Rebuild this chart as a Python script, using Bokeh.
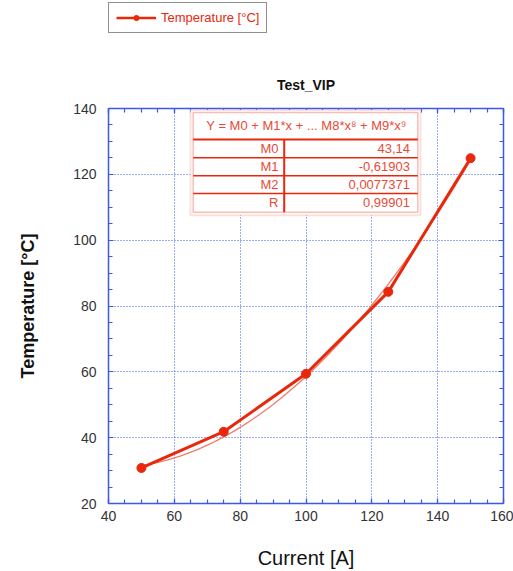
import numpy as np
from bokeh.plotting import figure
from bokeh.layouts import column
from bokeh.models import (LinearAxis, Legend, LegendItem, Label, BoxAnnotation,
                          Range1d, SingleIntervalTicker, CustomJSTickFormatter)
from bokeh.embed import file_html
from bokeh.resources import INLINE

# ---- data ----
current = [50, 75, 100, 125, 150]
temperature = [30.8, 41.8, 59.4, 84.3, 124.9]
fit_names = ["M0", "M1", "M2", "R"]
fit_values = ["43,14", "-0,61903", "0,0077371", "0,99901"]
M0, M1, M2 = 43.14, -0.61903, 0.0077371
fit_equation = "Y = M0 + M1*x + ... M8*x\u2078 + M9*x\u2079"
title_text = "Test_VIP"
series_name = "Temperature [°C]"
x_label = "Current [A]"

fit_x = np.linspace(current[0], current[-1], 101)
fit_y = M0 + M1 * fit_x + M2 * fit_x ** 2

RED = "#e8280c"
FIT_RED = "#f07a68"
BLUE = "#3a58ec"
FONT = "Liberation Sans"

TOP_H = 100  # height of the header strip (legend + title)

# ---------------- header strip: legend and title ----------------
head = figure(width=513, height=TOP_H, x_range=Range1d(0, 1), y_range=Range1d(0, 1),
              output_backend="svg", toolbar_location=None,
              min_border_left=0, min_border_right=0, min_border_top=0, min_border_bottom=0)
head.axis.visible = False
head.grid.visible = False
head.outline_line_color = None
head.border_fill_color = "white"
head.background_fill_color = "white"
# same series drawn here only so the legend can show its glyph (falls outside this strip's range)
h_line = head.line(current, temperature, color=RED, line_width=2.5)
h_pts = head.scatter(current, temperature, size=7, color=RED)

legend = Legend(items=[LegendItem(label=series_name, renderers=[h_line, h_pts])],
                location=(0, TOP_H - 33), border_line_color="#222222", border_line_width=1.5,
                background_fill_color="white", background_fill_alpha=1,
                label_text_color=RED, label_text_font=FONT, label_text_font_size="13px",
                glyph_width=40, glyph_height=13, label_height=13, label_standoff=5,
                padding=7, margin=0, spacing=0)
head.add_layout(legend)
head.add_layout(Label(x=197.5, y=TOP_H - 84, x_units="screen", y_units="screen",
                      text=title_text, text_align="center", text_baseline="middle",
                      text_font=FONT, text_font_size="14px", text_font_style="bold",
                      text_color="#111111"))

# ---------------- main chart ----------------
main = figure(width=513, height=571 - TOP_H, x_range=Range1d(40, 160), y_range=Range1d(20, 140),
              output_backend="svg", toolbar_location=None,
              min_border_left=108, min_border_right=10, min_border_top=108 - TOP_H,
              min_border_bottom=67, x_axis_label=x_label, y_axis_label=series_name)
main.outline_line_color = None
main.background_fill_color = "white"
main.border_fill_color = "white"

main.add_layout(LinearAxis(), "above")
main.add_layout(LinearAxis(), "right")

for ax in main.axis:
    ax.ticker = SingleIntervalTicker(interval=20, num_minor_ticks=4)
    ax.axis_line_color = BLUE
    ax.axis_line_width = 1.5
    ax.major_tick_line_color = BLUE
    ax.major_tick_line_width = 1.2
    ax.major_tick_in = 5
    ax.major_tick_out = 0
    ax.minor_tick_line_color = BLUE
    ax.minor_tick_line_width = 1.2
    ax.minor_tick_in = 4
    ax.minor_tick_out = 0
    ax.major_label_text_font = FONT
    ax.major_label_text_font_size = "14px"
    ax.major_label_text_color = "#333333"

# top and right frame axes carry ticks only, no labels
for ax in (main.above[0], main.right[0]):
    ax.formatter = CustomJSTickFormatter(code="return ''")
    ax.major_label_standoff = 0

xa = main.below[0]
xa.major_label_standoff = 7
xa.axis_label_standoff = 23
xa.axis_label_text_font = FONT
xa.axis_label_text_font_size = "20px"
xa.axis_label_text_font_style = "normal"
xa.axis_label_text_color = "#111111"

ya = main.left[0]
ya.major_label_standoff = 12
ya.axis_label_standoff = 32
ya.axis_label_text_font = FONT
ya.axis_label_text_font_size = "18px"
ya.axis_label_text_font_style = "bold"
ya.axis_label_text_color = "#111111"

for g in (main.xgrid[0], main.ygrid[0]):
    g.grid_line_color = BLUE
    g.grid_line_dash = "1 2"
    g.grid_line_width = 1
    g.ticker = SingleIntervalTicker(interval=20)

main.line(fit_x, fit_y, color=FIT_RED, line_width=1.3)
main.line(current, temperature, color=RED, line_width=3)
main.scatter(current, temperature, size=9, color=RED)


# ---- page pixel -> data helpers for the fit-result table ----
def dx(px):
    return 40 + (px - 108) * 120 / 395


def dy(py):
    return 140 - (py - 108) * 120 / 396


main.add_layout(BoxAnnotation(left=dx(190), right=dx(420), top=dy(109.5), bottom=dy(215),
                              fill_color="white", fill_alpha=1, line_color="#f29a8a",
                              line_width=2, level="annotation"))
main.add_layout(BoxAnnotation(left=dx(192.7), right=dx(417.3), top=dy(112), bottom=dy(212),
                              fill_color="white", fill_alpha=1, line_color=RED,
                              line_width=1.5, level="annotation"))

row_ys = [157.3, 175.3, 193.3]
main.segment(x0=[dx(192.7)] * 4, x1=[dx(417.3)] * 4,
             y0=[dy(139)] + [dy(v) for v in row_ys], y1=[dy(139)] + [dy(v) for v in row_ys],
             line_color=RED, line_width=[2, 1.5, 1.5, 1.5], level="overlay")
main.segment(x0=[dx(283.7)], x1=[dx(283.7)], y0=[dy(139)], y1=[dy(212)],
             line_color=RED, line_width=2, level="overlay")

TXT = "#e84a36"
main.add_layout(Label(x=dx(306), y=dy(125.5), text=fit_equation, text_align="center",
                      text_baseline="middle", text_font=FONT, text_font_size="13px",
                      text_color=TXT))
row_centers = [148, 166, 184.2, 202.5]
for name, val, yc in zip(fit_names, fit_values, row_centers):
    main.add_layout(Label(x=dx(278), y=dy(yc), text=name, text_align="right",
                          text_baseline="middle", text_font=FONT, text_font_size="13px",
                          text_color=TXT))
    main.add_layout(Label(x=dx(409.5), y=dy(yc), text=val, text_align="right",
                          text_baseline="middle", text_font=FONT, text_font_size="13px",
                          text_color=TXT))

p = column(head, main, spacing=0)
open("out.html", "w").write(file_html(p, INLINE))
